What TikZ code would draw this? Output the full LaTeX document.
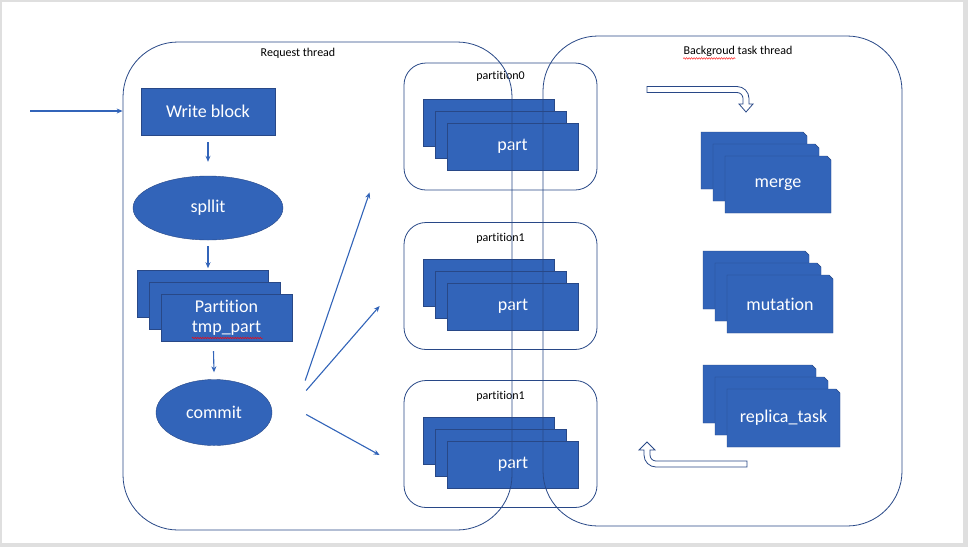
\documentclass[tikz,border=0pt]{standalone}
\usepackage{fontspec}
\setmainfont{Carlito}[Ligatures=NoCommon]
\definecolor{offBlue}{RGB}{50, 100, 185}
\definecolor{offEdge}{RGB}{40, 72, 135}
\usetikzlibrary{positioning, shapes.geometric, shapes.misc, shadows, arrows.meta, decorations.pathmorphing}

\begin{document}
\begin{tikzpicture}[x=1pt, y=-1pt,
    block/.style={rectangle, draw=offEdge, fill=offBlue, text=white, inner sep=0pt,
                  font=\fontsize{18}{20}\selectfont, align=center},
    oval/.style={ellipse, draw=offEdge, fill=offBlue, text=white, inner sep=0pt,
                 font=\fontsize{18}{20}\selectfont},
    card/.style={block, double copy shadow={shadow xshift=-12pt, shadow yshift=12pt}},
    task/.style={chamfered rectangle, chamfered rectangle corners=north east,
                 chamfered rectangle sep=2pt, draw=offEdge, fill=offBlue, text=white,
                 inner sep=0pt, font=\fontsize{18}{20}\selectfont,
                 double copy shadow={shadow xshift=-12pt, shadow yshift=12pt}},
    group/.style={rectangle, draw=offEdge, rounded corners=22pt, line width=0.8pt,
                  minimum width=193pt, minimum height=127pt},
    thread/.style={rectangle, draw=offEdge, rounded corners=55pt, line width=0.8pt},
    tag/.style={inner sep=0pt, font=\fontsize{12}{14}\selectfont},
    flow/.style={-{Stealth[length=6pt, width=5pt]}, draw=offBlue, line width=1.1pt},
    hollow/.style={draw=offEdge, fill=white, line width=0.8pt},
    squiggle/.style={draw=red, thin, decorate,
                     decoration={snake, amplitude=0.8pt, segment length=2.5pt}}
  ]
    \useasboundingbox (0,0) rectangle (968,547);
    \fill[gray!25] (0,0) rectangle (968,547);
    \fill[white] (2,2) rectangle (963,543);

    % Request thread: write path
    \node[block, minimum width=134pt, minimum height=47pt] (write) at (208,111.5) {Write block};
    \node[oval, minimum width=150pt, minimum height=64pt] (split) at (208,208) {spllit};
    \node[card, minimum width=131pt, minimum height=47pt] (tmp) at (226.5,317.5) {Partition\\tmp\_part};
    \node[oval, minimum width=116pt, minimum height=66pt] (commit) at (214,412.5) {commit};
    \draw[squiggle] (192,338) -- (263,338);

    % Partitions
    \node[group] (p0) at (500.5,126.5) {};
    \node[tag, below=8pt of p0.north] (p0lbl) {partition0};
    \node[card, minimum width=131pt, minimum height=47pt] (part0) at (512.5,146.5) {part};

    \node[group] (p1) at (500.5,286) {};
    \node[tag, below=11pt of p1.north] (p1lbl) {partition1};
    \node[card, minimum width=131pt, minimum height=47pt] (part1) at (513,306.5) {part};

    \node[group] (p2) at (500.5,444) {};
    \node[tag, below=11pt of p2.north] (p2lbl) {partition1};
    \node[card, minimum width=131pt, minimum height=47pt] (part2) at (513,464.5) {part};

    % Background tasks
    \node[task, minimum width=106pt, minimum height=57pt] (merge) at (778,184.5) {merge};
    \node[task, minimum width=106pt, minimum height=58pt] (mutation) at (780,304) {mutation};
    \node[task, minimum width=113pt, minimum height=58pt] (replica) at (783.5,418) {replica\_task};

    % hollow bent arrows
    \draw[hollow] (647,86.5) -- (737,86.5) arc[start angle=-90, end angle=0, radius=12]
      -- (749,104) -- (753,104) -- (746,112) -- (739,104) -- (743,104) -- (743,98.5)
      arc[start angle=0, end angle=-90, radius=6] -- (647,92.5) -- cycle;
    \draw[hollow] (747,467) -- (656,467) arc[start angle=90, end angle=180, radius=12]
      -- (644,450) -- (639,450) -- (647,442) -- (655,450) -- (650,450) -- (650,455)
      arc[start angle=180, end angle=90, radius=6] -- (747,461) -- cycle;

    % Thread frames
    \node[thread, minimum width=389pt, minimum height=488pt] (reqthread) at (317.5,286) {};
    \node[thread, minimum width=359pt, minimum height=490pt] (bgthread) at (722.5,281) {};
    \node[tag] (reqlbl) at (298,53) {Request thread};
    \node[tag] (bglbl) at (738,51) {Backgroud task thread};
    \draw[squiggle] (bglbl.south west) ++(0,2) -- ++(52,0);

    % Connectors
    \coordinate (input) at (30,111);
    \draw[flow] (input) -- (input -| reqthread.west);
    \draw[flow] ([yshift=-7pt]write.south) -- ([yshift=14pt]split.north);
    \draw[flow] ([yshift=-6pt]split.south) -- ([yshift=-28pt]split.south);
    \draw[flow] ([shift={(-13,10)}]tmp.south) -- ([yshift=7pt]commit.north);
    \draw[flow] ([shift={(33,-32)}]commit.east) -- ([shift={(-34,2)}]p0.south west);
    \draw[flow] ([shift={(34,-22)}]commit.east) -- ([shift={(-24,20)}]p1.west);
    \draw[flow] ([shift={(34,2)}]commit.east) -- ([shift={(-24,11)}]p2.west);
  \end{tikzpicture}
\end{document}
